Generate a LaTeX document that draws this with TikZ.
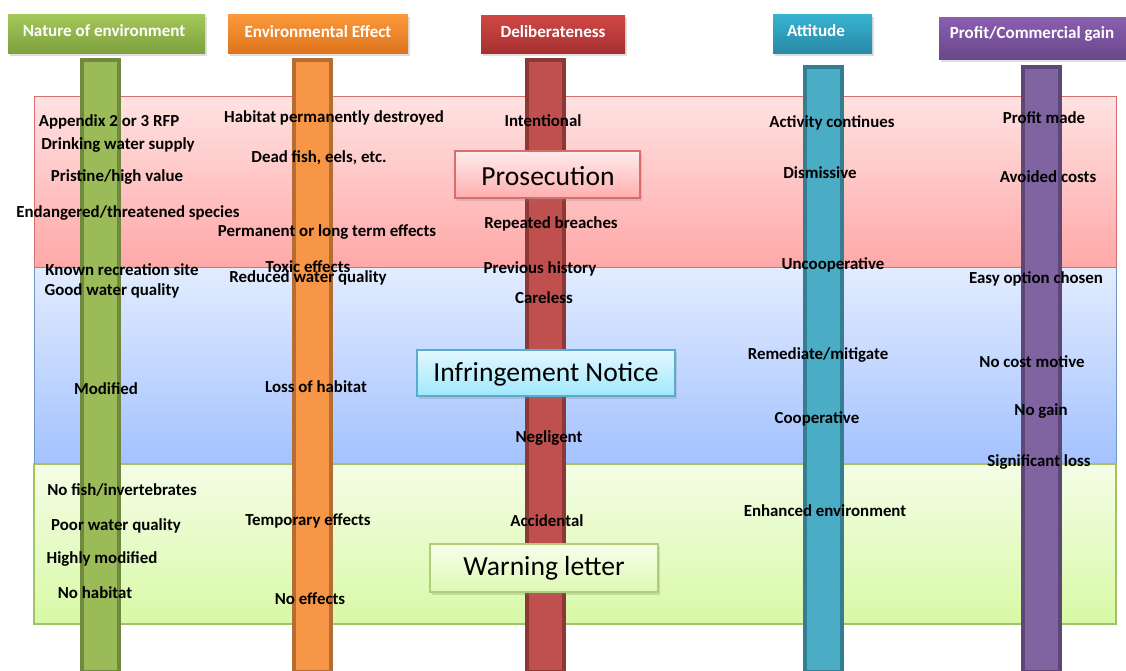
\documentclass[tikz,border=0pt]{standalone}
\usepackage{fontspec}
\setmainfont{Carlito}
\usetikzlibrary{shadows}

\definecolor{natgreen}{HTML}{9BBB59}
\definecolor{natgreenD}{HTML}{71893F}
\definecolor{effor}{HTML}{F79646}
\definecolor{efforD}{HTML}{B66D31}
\definecolor{delred}{HTML}{C0504D}
\definecolor{delredD}{HTML}{8C3836}
\definecolor{attcyan}{HTML}{4BACC6}
\definecolor{attcyanD}{HTML}{357D91}
\definecolor{profpur}{HTML}{8064A2}
\definecolor{profpurD}{HTML}{5C4776}
% bands
\definecolor{redtop}{RGB}{255,226,226}
\definecolor{redbot}{RGB}{255,168,168}
\definecolor{redline}{RGB}{214,110,110}
\definecolor{bluetop}{RGB}{226,236,255}
\definecolor{bluebot}{RGB}{164,194,255}
\definecolor{blueline}{RGB}{110,146,204}
\definecolor{greentop}{RGB}{244,253,230}
\definecolor{greenbot}{RGB}{216,249,166}
\definecolor{greenline}{RGB}{160,196,100}
% headers
\definecolor{hnattop}{RGB}{165,200,90}
\definecolor{hnatbot}{RGB}{126,160,62}
\definecolor{hefftop}{RGB}{251,154,58}
\definecolor{heffbot}{RGB}{222,116,30}
\definecolor{hdeltop}{RGB}{208,72,70}
\definecolor{hdelbot}{RGB}{166,48,48}
\definecolor{hatttop}{RGB}{56,178,210}
\definecolor{hattbot}{RGB}{40,138,166}
\definecolor{hprotop}{RGB}{138,94,176}
\definecolor{hprobot}{RGB}{106,72,138}
% outcome boxes
\definecolor{prostop}{RGB}{255,236,236}
\definecolor{prosbot}{RGB}{255,174,174}
\definecolor{infrtop}{RGB}{226,248,255}
\definecolor{infrbot}{RGB}{160,232,252}
\definecolor{infrline}{RGB}{90,170,210}
\definecolor{warntop}{RGB}{248,254,236}
\definecolor{warnbot}{RGB}{222,248,180}
\definecolor{warnline}{RGB}{176,206,120}

\tikzset{
  lbl/.style={font=\bfseries\fontsize{9.6}{11}\selectfont, inner sep=0pt},
  head/.style={font=\bfseries\fontsize{9.7}{11}\selectfont, text=white, inner sep=0pt},
  headbox/.style={drop shadow={opacity=0.25,shadow xshift=1pt,shadow yshift=-1.5pt}},
  bar/.style={line width=1.8pt},
  verdict/.style={font=\fontsize{15.7}{18}\selectfont, inner sep=0pt},
  verdictbox/.style={drop shadow={opacity=0.25,shadow xshift=1pt,shadow yshift=-1.5pt}}
}

\begin{document}
\begin{tikzpicture}[x=0.02cm,y=-0.02cm]
   \useasboundingbox (0,0) rectangle (1126,670);
   % bands
   \shade[top color=redtop, bottom color=redbot] (34,96) rectangle (1116,267);
   \shade[top color=bluetop, bottom color=bluebot] (34,267) rectangle (1116,464);
   \shade[top color=greentop, bottom color=greenbot] (34,464) rectangle (1116,624);
   \draw[redline,line width=0.5pt] (34,267) -- (34,96) -- (1116,96) -- (1116,267);
   \draw[blueline,line width=0.5pt] (34,267) -- (1116,267);
   \draw[blueline,line width=0.5pt] (34,267) -- (34,464);
   \draw[blueline,line width=0.5pt] (1116,267) -- (1116,464);
   \draw[greenline,line width=0.6pt] (34,464) -- (1116,464) -- (1116,624) -- (34,624) -- cycle;

   % column headers
   \shade[headbox,top color=hnattop, bottom color=hnatbot] (8,14) rectangle (205,53);
   \shade[headbox,top color=hefftop, bottom color=heffbot] (228,14) rectangle (408,53);
   \shade[headbox,top color=hdeltop, bottom color=hdelbot] (481,15) rectangle (625,53);
   \shade[headbox,top color=hatttop, bottom color=hattbot] (773,14) rectangle (872,53);
   \shade[headbox,top color=hprotop, bottom color=hprobot] (939,17) rectangle (1126,59);
   \node[head] (hnat) at (104,31) {Nature of environment};
   \node[head] (heff) at (318,32) {Environmental Effect};
   \node[head] (hdel) at (553,32) {Deliberateness};
   \node[head] (hatt) at (816,31) {Attitude};
   \node[head] (hpro) at (1032,34) {Profit/Commercial gain};

   % bars
   \draw[bar,fill=natgreen,draw=natgreenD] (82,60) rectangle (119,672);
   \draw[bar,fill=effor,draw=efforD] (294,60) rectangle (331,672);
   \draw[bar,fill=delred,draw=delredD] (527,60) rectangle (564,672);
   \draw[bar,fill=attcyan,draw=attcyanD] (805,67) rectangle (842,672);
   \draw[bar,fill=profpur,draw=profpurD] (1023,67) rectangle (1060,672);

   % outcome boxes
   \shade[verdictbox,top color=prostop, bottom color=prosbot] (455,151) rectangle (640,198);
   \draw[line width=0.6pt,redline] (455,151) rectangle (640,198);
   \shade[verdictbox,top color=infrtop, bottom color=infrbot] (417,350) rectangle (675,396);
   \draw[line width=0.6pt,infrline] (417,350) rectangle (675,396);
   \shade[verdictbox,top color=warntop, bottom color=warnbot] (430,544) rectangle (658,592);
   \draw[line width=0.6pt,warnline] (430,544) rectangle (658,592);
   \node[verdict] (pros) at (548,176) {Prosecution};
   \node[verdict] (infr) at (546,374) {Infringement Notice};
   \node[verdict] (warn) at (544,568) {Warning letter};

   % nature of environment
   \node[lbl] (n1) at (109,122) {Appendix 2 or 3 RFP};
   \node[lbl] (n2) at (118,145) {Drinking water supply};
   \node[lbl] (n3) at (117,177) {Pristine/high value};
   \node[lbl] (n4) at (128,213) {Endangered/threatened species};
   \node[lbl] (n5) at (122,270) {Known recreation site};
   \node[lbl] (n6) at (112,291) {Good water quality};
   \node[lbl] (n7) at (106,389) {Modified};
   \node[lbl] (n8) at (122,490) {No fish/invertebrates};
   \node[lbl] (n9) at (116,526) {Poor water quality};
   \node[lbl] (n10) at (102,559) {Highly modified};
   \node[lbl] (n11) at (95,593) {No habitat};

   % environmental effect
   \node[lbl] (e1) at (334,118) {Habitat permanently destroyed};
   \node[lbl] (e2) at (319,158) {Dead fish, eels, etc.};
   \node[lbl] (e3) at (327,232) {Permanent or long term effects};
   \node[lbl] (e4) at (308,267) {Toxic effects};
   \node[lbl] (e5) at (308,278) {Reduced water quality};
   \node[lbl] (e6) at (316,387) {Loss of habitat};
   \node[lbl] (e7) at (308,521) {Temporary effects};
   \node[lbl] (e8) at (310,599) {No effects};

   % deliberateness
   \node[lbl] (d1) at (543,121) {Intentional};
   \node[lbl] (d2) at (551,224) {Repeated breaches};
   \node[lbl] (d3) at (540,269) {Previous history};
   \node[lbl] (d4) at (544,298) {Careless};
   \node[lbl] (d5) at (549,438) {Negligent};
   \node[lbl] (d6) at (547,521) {Accidental};

   % attitude
   \node[lbl] (a1) at (832,123) {Activity continues};
   \node[lbl] (a2) at (820,173) {Dismissive};
   \node[lbl] (a3) at (833,265) {Uncooperative};
   \node[lbl] (a4) at (818,355) {Remediate/mitigate};
   \node[lbl] (a5) at (817,419) {Cooperative};
   \node[lbl] (a6) at (825,511) {Enhanced environment};

   % profit
   \node[lbl] (p1) at (1044,118) {Profit made};
   \node[lbl] (p2) at (1048,177) {Avoided costs};
   \node[lbl] (p3) at (1036,279) {Easy option chosen};
   \node[lbl] (p4) at (1032,362) {No cost motive};
   \node[lbl] (p5) at (1041,411) {No gain};
   \node[lbl] (p6) at (1039,462) {Significant loss};
  \end{tikzpicture}
\end{document}
